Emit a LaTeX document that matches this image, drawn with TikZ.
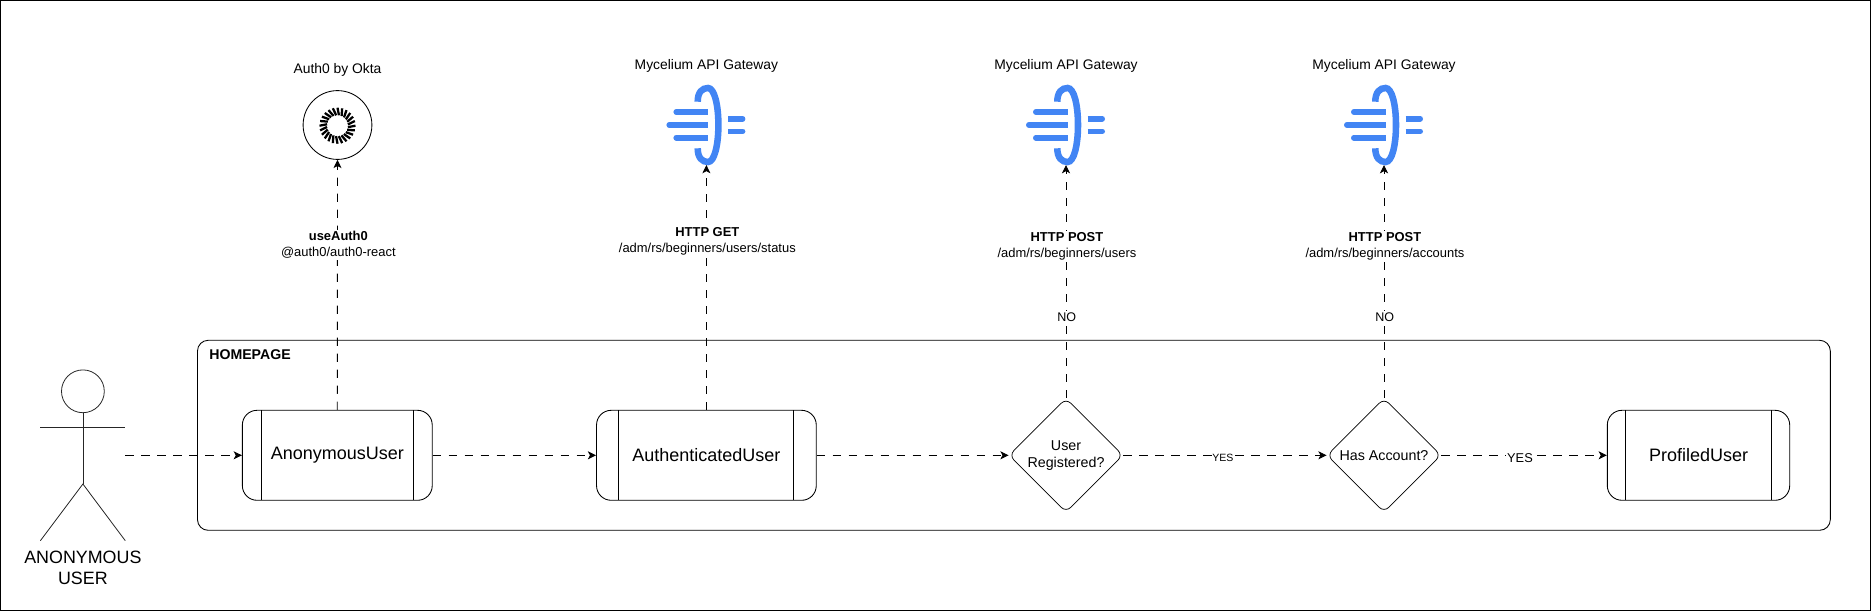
\documentclass[tikz,border=0pt]{standalone}
\usepackage{fontspec}
\setmainfont{Liberation Sans}
\usetikzlibrary{shapes.geometric,arrows.meta,calc}
\definecolor{gateblue}{HTML}{4285F4}
\tikzset{
  x=0.75pt,y=-0.75pt,
  line/.style={draw=black,line width=0.65pt},
  thin line/.style={draw=black!85,line width=0.6pt},
  flow/.style={draw=black,line width=0.65pt,dash pattern=on 6.2pt off 5.8pt,-{Stealth[length=6.2pt,width=6pt,inset=1.6pt]}},
  procbox/.style={rectangle,draw=black,line width=0.65pt,rounded corners=11pt,inner sep=0pt,minimum height=67.5pt,font=\fontsize{13.5}{16}\selectfont},
  decision/.style={diamond,draw=black,line width=0.55pt,rounded corners=5pt,inner sep=0pt,minimum width=85.5pt,minimum height=85.5pt,align=center,font=\fontsize{10.7}{12.8}\selectfont},
  caption/.style={font=\fontsize{10.4}{12}\selectfont,inner sep=0pt},
  edgelabel/.style={fill=white,align=center,inner sep=1.3pt,font=\fontsize{9.7}{12}\selectfont},
  gatering/.style={draw=gateblue,line width=4.9pt,line cap=butt},
  gatebar/.style={draw=gateblue,line width=4.2pt,line cap=round},
  gatestub/.style={draw=gateblue,line width=4.2pt,line cap=butt},
}
\newcommand{\gateway}[2]{%
  \begin{scope}[shift={(#1,125)}]
    \draw[gatering] (-8.7,-23.3) .. controls (-8.7,-33) and (-4,-37) .. (1.6,-37) .. controls (8,-37) and (12,-20) .. (12,0) .. controls (12,20) and (8,37) .. (1.6,37) .. controls (-4,37) and (-8.7,33) .. (-8.7,23.3);
    \draw[gatebar] (-30.2,-13) -- (-5,-13);
    \draw[gatebar] (-37.2,0) -- (-5,0);
    \draw[gatebar] (-30.2,12.7) -- (-5,12.7);
    \draw[gatestub] (-10,-13) -- (1.7,-13);
    \draw[gatestub] (-10,0) -- (1.7,0);
    \draw[gatestub] (-10,12.7) -- (1.7,12.7);
    \draw[gatebar] (28,-6.3) -- (36.2,-6.3);
    \draw[gatebar] (28,6.3) -- (36.2,6.3);
    \draw[gatestub] (21.7,-6.3) -- (30,-6.3);
    \draw[gatestub] (21.7,6.3) -- (30,6.3);
  \end{scope}%
  \coordinate (#2) at (#1,165);
}
\begin{document}
\begin{tikzpicture}
\useasboundingbox (0,0) rectangle (1871,611);
\draw[line] (0.7,0.7) rectangle (1870.3,610.3);
% frame
\node[draw=black,line width=0.65pt,rounded corners=8pt,minimum width=1224.6pt,minimum height=142.5pt,inner sep=0pt] (frame) at (1013.9,435.3) {};
\node[anchor=center,inner sep=0pt,font=\bfseries\fontsize{10.6}{12}\selectfont] (hometitle) at (250,355) {HOMEPAGE};
% actor
\draw[thin line] (82.9,391.3) ellipse [x radius=21.4,y radius=21.4];
\draw[thin line] (82.9,412.7) -- (82.9,484);
\draw[thin line] (40.4,427) -- (125.3,427);
\draw[thin line] (40.4,540.7) -- (82.9,484) -- (125.3,540.7);
\node[align=center,inner sep=0pt,font=\fontsize{13.4}{16}\selectfont] (actorname) at (82.9,567.7) {ANONYMOUS\\USER};
\coordinate (actorout) at (125.3,455.3);
% boxes
\node[procbox,minimum width=142.4pt] (anon) at (337.3,455.3) {AnonymousUser};
\draw[line] (261.2,410.3) -- (261.2,500.3) (413.5,410.3) -- (413.5,500.3);
\node[procbox,minimum width=164.8pt] (auth) at (706.4,455.3) {AuthenticatedUser};
\draw[line] (618.4,410.3) -- (618.4,500.3) (793.5,410.3) -- (793.5,500.3);
\node[procbox,minimum width=136.8pt] (prof) at (1698.5,455.3) {ProfiledUser};
\draw[line] (1625.3,410.3) -- (1625.3,500.3) (1771.7,410.3) -- (1771.7,500.3);
\node[decision] (reg) at (1066,455.3) {User\\Registered?};
\node[decision] (acc) at (1384,455.3) {Has Account?};
% top services
\node[caption] (authtitle) at (337.5,70) {Auth0 by Okta};
\node[circle,draw=black,line width=0.65pt,minimum size=51.6pt,inner sep=0pt] (okta) at (337.5,125) {};
\foreach \a in {0,15,...,359} {
  \draw[black,line width=1.7pt] ($(337.5,125.7)+(\a+8:10.5)$) -- ($(337.5,125.7)+(\a:18)$);
}
\node[caption] (gw1title) at (706.4,65.5) {Mycelium API Gateway};
\node[caption] (gw2title) at (1066,65.5) {Mycelium API Gateway};
\node[caption] (gw3title) at (1384,65.5) {Mycelium API Gateway};
\gateway{706.4}{gw1}
\gateway{1066}{gw2}
\gateway{1384}{gw3}
% connectors
\draw[flow] (actorout) -- (anon.west);
\draw[flow] (anon.east) -- (auth.west);
\draw[flow] (auth.east) -- (reg.west);
\draw[flow] (reg.east) -- node[edgelabel,inner sep=0.6pt,pos=0.49,yshift=-2.2pt,font=\fontsize{7.9}{10}\selectfont] (yes1) {YES} (acc.west);
\draw[flow] (acc.east) -- node[edgelabel,inner sep=0.6pt,pos=0.475,yshift=-1.9pt,font=\fontsize{9.6}{12}\selectfont] (yes2) {YES} (prof.west);
\draw[flow] (anon.north) -- node[edgelabel,pos=0.659,xshift=0.7pt] (lab1) {\textbf{useAuth0}\\@auth0/auth0-react} (okta.south);
\draw[flow] (auth.north) -- node[edgelabel,pos=0.687,xshift=0.7pt] (lab2) {\textbf{HTTP GET}\\/adm/rs/beginners/users/status} (gw1);
\draw[flow] (reg.north) -- node[edgelabel,pos=0.346,font=\fontsize{9.4}{12}\selectfont,xshift=0.5pt] (no1) {NO} node[edgelabel,pos=0.651,xshift=0.7pt] (lab3) {\textbf{HTTP POST}\\/adm/rs/beginners/users} (gw2);
\draw[flow] (acc.north) -- node[edgelabel,pos=0.346,font=\fontsize{9.4}{12}\selectfont,xshift=0.5pt] (no2) {NO} node[edgelabel,pos=0.651,xshift=0.7pt] (lab4) {\textbf{HTTP POST}\\/adm/rs/beginners/accounts} (gw3);
\end{tikzpicture}
\end{document}
